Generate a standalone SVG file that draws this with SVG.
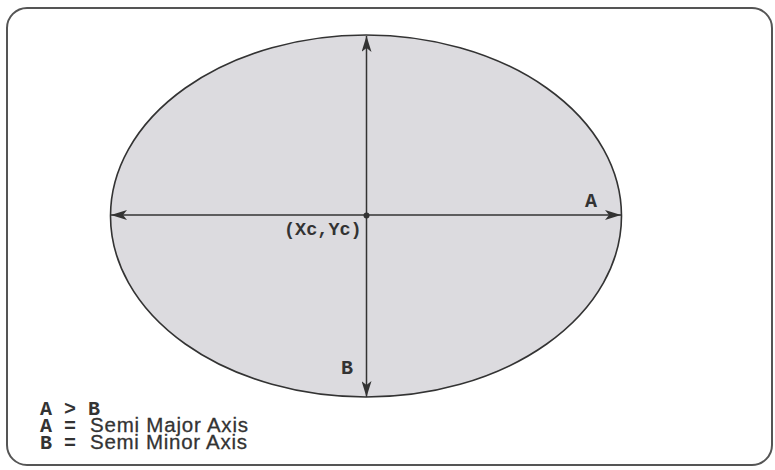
<svg xmlns="http://www.w3.org/2000/svg" width="775" height="470" viewBox="0 0 775 470">
<style>
.mono{font-family:"Liberation Mono","Courier New",monospace;font-weight:bold;fill:#333}
.sans{font-family:"Liberation Sans",Arial,sans-serif;fill:#333;stroke:#333;stroke-width:0.3}
.axis{stroke:#333;stroke-width:1.5;fill:none}
</style>
<defs>
<marker id="ah" viewBox="0 0 16 10" refX="16" refY="5" markerWidth="16" markerHeight="10" markerUnits="userSpaceOnUse" orient="auto-start-reverse">
<path d="M0,0 L16,5 L0,10 L4,5 Z" fill="#333"/>
</marker>
</defs>
<rect width="775" height="470" fill="#fff"/>
<rect x="7" y="8" width="765" height="457" rx="20" ry="20" fill="#fff" stroke="#555" stroke-width="2"/>
<g id="ellipse">
<ellipse cx="366" cy="216" rx="255.5" ry="181" fill="#dcdbdf" stroke="#333" stroke-width="1.6"/>
</g>
<g id="connectors">
<line class="axis" x1="111" y1="215" x2="621" y2="215" marker-start="url(#ah)" marker-end="url(#ah)"/>
<line class="axis" x1="366.5" y1="36" x2="366.5" y2="397" marker-start="url(#ah)" marker-end="url(#ah)"/>
<circle cx="366.5" cy="215.5" r="3" fill="#333"/>
</g>
<g id="labels">
<text class="mono" x="284" y="235" font-size="18.5">(Xc,Yc)</text>
<text class="mono" x="585" y="207" font-size="20">A</text>
<text class="mono" x="341" y="374" font-size="20">B</text>
</g>
<g id="legend">
<text class="mono" x="40" y="415" font-size="20" xml:space="preserve">A &gt; B</text>
<text class="mono" x="40" y="432" font-size="20" xml:space="preserve">A =</text>
<text class="sans" x="90" y="432" font-size="20.5" textLength="158">Semi Major Axis</text>
<text class="mono" x="40" y="449" font-size="20" xml:space="preserve">B =</text>
<text class="sans" x="90" y="449" font-size="20.5" textLength="157">Semi Minor Axis</text>
</g>
</svg>
